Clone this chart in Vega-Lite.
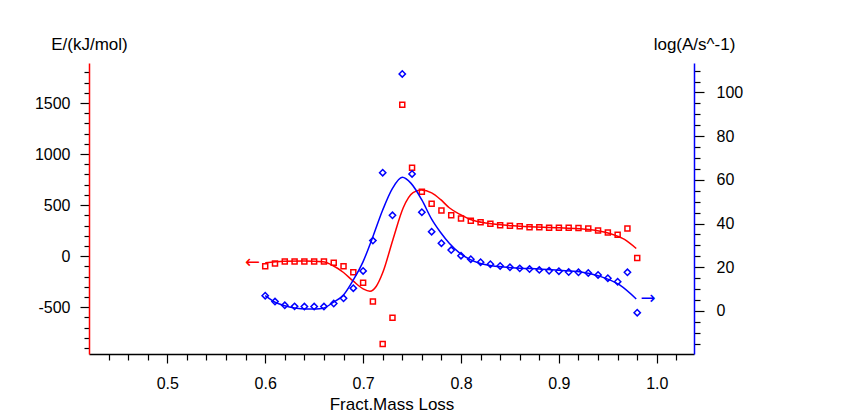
{
  "$schema": "https://vega.github.io/schema/vega-lite/v6.json",
  "width": 605,
  "height": 291,
  "autosize": {"type": "none"},
  "padding": {"left": 89, "top": 63, "right": 149, "bottom": 58},
  "background": "white",
  "config": {
    "view": {"stroke": null},
    "axis": {
      "labelFont": "Liberation Sans",
      "titleFont": "Liberation Sans",
      "labelFontSize": 16,
      "titleFontSize": 17,
      "titleFontWeight": "normal",
      "labelColor": "black",
      "titleColor": "black",
      "tickColor": "black",
      "tickWidth": 1.2,
      "domainWidth": 1.5,
      "grid": false,
      "tickCount": 200,
      "labelOverlap": false,
      "labelFlush": false,
      "labelBound": false
    }
  },
  "datasets": {
    "pts": [
      {"x": 0.60, "E": -98, "A": 7.0},
      {"x": 0.61, "E": -72, "A": 4.3},
      {"x": 0.62, "E": -52, "A": 2.6},
      {"x": 0.63, "E": -52, "A": 2.1},
      {"x": 0.64, "E": -52, "A": 2.0},
      {"x": 0.65, "E": -52, "A": 2.0},
      {"x": 0.66, "E": -52, "A": 2.0},
      {"x": 0.67, "E": -65, "A": 3.4},
      {"x": 0.68, "E": -98, "A": 5.8},
      {"x": 0.69, "E": -157, "A": 10.4},
      {"x": 0.70, "E": -261, "A": 18.3},
      {"x": 0.71, "E": -444, "A": 32.2},
      {"x": 0.72, "E": -859, "A": 63.3},
      {"x": 0.73, "E": -604, "A": 43.8},
      {"x": 0.74, "E": 1482, "A": 108.5},
      {"x": 0.75, "E": 867, "A": 62.7},
      {"x": 0.76, "E": 631, "A": 45.2},
      {"x": 0.77, "E": 514, "A": 36.3},
      {"x": 0.78, "E": 448, "A": 31.0},
      {"x": 0.79, "E": 400, "A": 27.9},
      {"x": 0.80, "E": 370, "A": 25.3},
      {"x": 0.81, "E": 347, "A": 23.7},
      {"x": 0.82, "E": 333, "A": 22.3},
      {"x": 0.83, "E": 317, "A": 21.4},
      {"x": 0.84, "E": 304, "A": 20.6},
      {"x": 0.85, "E": 298, "A": 20.0},
      {"x": 0.86, "E": 294, "A": 19.5},
      {"x": 0.87, "E": 284, "A": 19.2},
      {"x": 0.88, "E": 284, "A": 18.8},
      {"x": 0.89, "E": 278, "A": 18.4},
      {"x": 0.90, "E": 278, "A": 18.2},
      {"x": 0.91, "E": 278, "A": 17.8},
      {"x": 0.92, "E": 275, "A": 17.7},
      {"x": 0.93, "E": 271, "A": 17.4},
      {"x": 0.94, "E": 252, "A": 16.5},
      {"x": 0.95, "E": 232, "A": 15.0},
      {"x": 0.96, "E": 209, "A": 13.4},
      {"x": 0.97, "E": 271, "A": 17.7},
      {"x": 0.98, "E": -19, "A": -0.8}
    ],
    "fitE": [
      {"x": 0.600, "E": -65},
      {"x": 0.619, "E": -49},
      {"x": 0.640, "E": -46},
      {"x": 0.659, "E": -55},
      {"x": 0.669, "E": -91},
      {"x": 0.680, "E": -160},
      {"x": 0.690, "E": -245},
      {"x": 0.700, "E": -320},
      {"x": 0.707, "E": -343},
      {"x": 0.7135, "E": -294},
      {"x": 0.720, "E": -163},
      {"x": 0.7305, "E": 164},
      {"x": 0.741, "E": 474},
      {"x": 0.751, "E": 622},
      {"x": 0.7595, "E": 647},
      {"x": 0.770, "E": 620},
      {"x": 0.779, "E": 556},
      {"x": 0.788, "E": 474},
      {"x": 0.799, "E": 409},
      {"x": 0.809, "E": 362},
      {"x": 0.829, "E": 320},
      {"x": 0.860, "E": 294},
      {"x": 0.901, "E": 278},
      {"x": 0.931, "E": 262},
      {"x": 0.952, "E": 222},
      {"x": 0.967, "E": 164},
      {"x": 0.979, "E": 75}
    ],
    "fitA": [
      {"x": 0.600, "A": 7.0},
      {"x": 0.610, "A": 4.0},
      {"x": 0.620, "A": 2.4},
      {"x": 0.630, "A": 1.4},
      {"x": 0.642, "A": 0.9},
      {"x": 0.652, "A": 0.9},
      {"x": 0.659, "A": 1.2},
      {"x": 0.669, "A": 3.8},
      {"x": 0.680, "A": 7.3},
      {"x": 0.690, "A": 14.2},
      {"x": 0.700, "A": 22.6},
      {"x": 0.710, "A": 34.0},
      {"x": 0.720, "A": 46.2},
      {"x": 0.730, "A": 56.1},
      {"x": 0.740, "A": 61.2},
      {"x": 0.749, "A": 58.4},
      {"x": 0.760, "A": 50.8},
      {"x": 0.770, "A": 42.0},
      {"x": 0.779, "A": 36.0},
      {"x": 0.788, "A": 31.0},
      {"x": 0.799, "A": 26.4},
      {"x": 0.819, "A": 21.8},
      {"x": 0.839, "A": 20.3},
      {"x": 0.860, "A": 19.6},
      {"x": 0.880, "A": 19.2},
      {"x": 0.900, "A": 18.6},
      {"x": 0.921, "A": 18.0},
      {"x": 0.941, "A": 16.0},
      {"x": 0.962, "A": 11.9},
      {"x": 0.979, "A": 5.5}
    ],
    "arrowE": [{"x": 0.587, "E": -65, "t": "←"}],
    "arrowA": [{"x": 0.991, "A": 5.4, "t": "→"}]
  },
  "resolve": {"scale": {"y": "independent"}},
  "layer": [
    {
      "layer": [
        {
          "data": {"name": "fitE"},
          "mark": {"type": "line", "color": "#ff0000", "strokeWidth": 1.5, "interpolate": "monotone"},
          "encoding": {
            "x": {"field": "x", "type": "quantitative", "scale": {"domain": [0.42, 1.038], "nice": false, "zero": false},
              "axis": {"title": "Fract.Mass Loss", "orient": "bottom", "domainColor": "black",
                "values": [0.44,0.46,0.48,0.5,0.52,0.54,0.56,0.58,0.6,0.62,0.64,0.66,0.68,0.7,0.72,0.74,0.76,0.78,0.8,0.82,0.84,0.86,0.88,0.9,0.92,0.94,0.96,0.98,1,1.02],
                "labelExpr": "abs(datum.value*10 - round(datum.value*10)) < 0.001 ? format(datum.value, '.1f') : ''",
                "tickSize": {"condition": {"test": "abs(datum.value*10 - round(datum.value*10)) < 0.001", "value": 9}, "value": 6},
                "labelPadding": 12, "titleY": 55, "titleBaseline": "alphabetic"}},
            "y": {"field": "E", "type": "quantitative", "scale": {"domain": [-958, 1892], "nice": false, "zero": false},
              "axis": {"title": "E/(kJ/mol)", "orient": "left", "domainColor": "#ff0000",
                "values": [-900,-800,-700,-600,-500,-400,-300,-200,-100,0,100,200,300,400,500,600,700,800,900,1000,1100,1200,1300,1400,1500,1600,1700,1800],
                "labelExpr": "datum.value % 500 == 0 ? '' + datum.value : ''",
                "tickSize": {"condition": {"test": "datum.value % 500 == 0", "value": 9}, "value": 5},
                "labelPadding": 10, "titleAngle": 0, "titleX": 0, "titleY": -14, "titleAlign": "center", "titleBaseline": "alphabetic"}}
          }
        },
        {
          "data": {"name": "pts"},
          "mark": {"type": "point", "shape": "square", "filled": false, "color": "#ff0000", "strokeWidth": 1.5, "size": 25, "opacity": 1},
          "encoding": {
            "x": {"field": "x", "type": "quantitative"},
            "y": {"field": "E", "type": "quantitative"}
          }
        },
        {
          "data": {"name": "arrowE"},
          "mark": {"type": "text", "color": "#ff0000", "font": "DejaVu Sans", "fontSize": 18, "baseline": "middle", "align": "center"},
          "encoding": {
            "x": {"field": "x", "type": "quantitative"},
            "y": {"field": "E", "type": "quantitative"},
            "text": {"field": "t"}
          }
        }
      ]
    },
    {
      "layer": [
        {
          "data": {"name": "fitA"},
          "mark": {"type": "line", "color": "#0000ff", "strokeWidth": 1.5, "interpolate": "monotone"},
          "encoding": {
            "x": {"field": "x", "type": "quantitative"},
            "y": {"field": "A", "type": "quantitative", "scale": {"domain": [-19.7, 113.5], "nice": false, "zero": false},
              "axis": {"title": "log(A/s^-1)", "orient": "right", "domainColor": "#0000ff",
                "values": [-15,-10,-5,0,5,10,15,20,25,30,35,40,45,50,55,60,65,70,75,80,85,90,95,100,105,110],
                "labelExpr": "datum.value % 20 == 0 ? '' + datum.value : ''",
                "tickSize": {"condition": {"test": "datum.value % 20 == 0", "value": 10}, "value": 6},
                "labelPadding": 12, "titleAngle": 0, "titleX": 0, "titleY": -14, "titleAlign": "center", "titleBaseline": "alphabetic"}}
          }
        },
        {
          "data": {"name": "pts"},
          "mark": {"type": "point", "shape": "diamond", "filled": false, "color": "#0000ff", "strokeWidth": 1.5, "size": 40, "opacity": 1},
          "encoding": {
            "x": {"field": "x", "type": "quantitative"},
            "y": {"field": "A", "type": "quantitative"}
          }
        },
        {
          "data": {"name": "arrowA"},
          "mark": {"type": "text", "color": "#0000ff", "font": "DejaVu Sans", "fontSize": 18, "baseline": "middle", "align": "center"},
          "encoding": {
            "x": {"field": "x", "type": "quantitative"},
            "y": {"field": "A", "type": "quantitative"},
            "text": {"field": "t"}
          }
        }
      ]
    }
  ]
}
